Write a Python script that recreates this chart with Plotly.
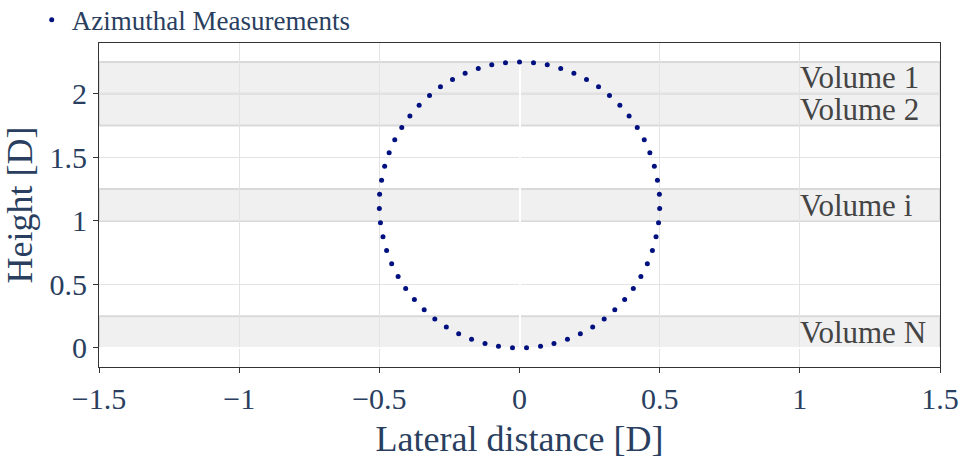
import plotly.graph_objects as go

x_pts = [0.000, 0.050, 0.099, 0.147, 0.194, 0.239, 0.282, 0.321, 0.358, 0.391,
         0.420, 0.445, 0.465, 0.481, 0.492, 0.499, 0.500, 0.496, 0.487, 0.474,
         0.456, 0.433, 0.406, 0.375, 0.340, 0.302, 0.261, 0.217, 0.171, 0.123,
         0.075, 0.025,
         -0.025, -0.075, -0.123, -0.171, -0.217, -0.261, -0.302, -0.340, -0.375,
         -0.406, -0.433, -0.456, -0.474, -0.487, -0.496, -0.500, -0.499, -0.492,
         -0.481, -0.465, -0.445, -0.420, -0.391, -0.358, -0.321, -0.282, -0.239,
         -0.194, -0.147, -0.099, -0.050]
y_pts = [2.250, 2.244, 2.228, 2.200, 2.162, 2.113, 2.055, 1.987, 1.911, 1.826,
         1.735, 1.638, 1.536, 1.430, 1.320, 1.209, 1.097, 0.985, 0.875, 0.767,
         0.662, 0.563, 0.468, 0.381, 0.300, 0.228, 0.165, 0.111, 0.068, 0.035,
         0.013, 0.001,
         0.001, 0.013, 0.035, 0.068, 0.111, 0.165, 0.228, 0.300, 0.381,
         0.468, 0.563, 0.662, 0.767, 0.875, 0.985, 1.097, 1.209, 1.320,
         1.430, 1.536, 1.638, 1.735, 1.826, 1.911, 1.987, 2.055, 2.113,
         2.162, 2.200, 2.228, 2.244]

# Volumes (bands)
vol_labels = ["Volume 1", "Volume 2", "Volume i", "Volume N"]
vol_y0 = [2.0, 1.75, 1.0, 0.0]
vol_y1 = [2.25, 2.0, 1.25, 0.25]
band_x = [-1.5, 1.5]
label_x = 1.0

FONT = "Liberation Serif, Times New Roman, serif"
TXT = "#2a3f5f"

fig = go.Figure()
fig.add_trace(go.Scatter(
    x=x_pts, y=y_pts, mode="markers", name="Azimuthal Measurements",
    marker=dict(color="#00107f", size=5),
))

for lab, a, b in zip(vol_labels, vol_y0, vol_y1):
    fig.add_shape(type="rect", xref="x", yref="y",
                  x0=band_x[0], x1=band_x[1], y0=a, y1=b,
                  fillcolor="#f0f0f0", line=dict(color="#d9d9d9", width=2),
                  layer="below")
    fig.add_annotation(x=label_x, y=(a + b) / 2, xref="x", yref="y",
                       text=lab, showarrow=False, xanchor="left", yanchor="middle",
                       xshift=-2,
                       font=dict(family=FONT, size=31, color="#444444"))

axis_common = dict(
    showgrid=True, gridcolor="#e3e3e3", gridwidth=1,
    zeroline=True, zerolinecolor="white", zerolinewidth=2,
    showline=True, linecolor="#333333", linewidth=1, mirror=True,
    ticks="outside", ticklen=5, tickcolor="#333333",
    tickfont=dict(family=FONT, size=30, color=TXT),
    title_font=dict(family=FONT, size=36, color=TXT),
)

fig.update_layout(
    width=960, height=459,
    margin=dict(l=99, r=20, t=43, b=92, autoexpand=False),
    plot_bgcolor="white", paper_bgcolor="white",
    font=dict(family=FONT, color=TXT),
    showlegend=True,
    legend=dict(x=-0.08, y=1.07, xanchor="left", yanchor="middle",
                font=dict(family=FONT, size=27, color=TXT),
                bgcolor="rgba(0,0,0,0)"),
    xaxis=dict(range=[-1.5, 1.5], dtick=0.5, title_text="Lateral distance [D]",
               title_standoff=12, **axis_common),
    yaxis=dict(range=[-0.15, 2.4], dtick=0.5, title_text="Height [D]",
               **axis_common),
)

fig.write_html("out.html")
